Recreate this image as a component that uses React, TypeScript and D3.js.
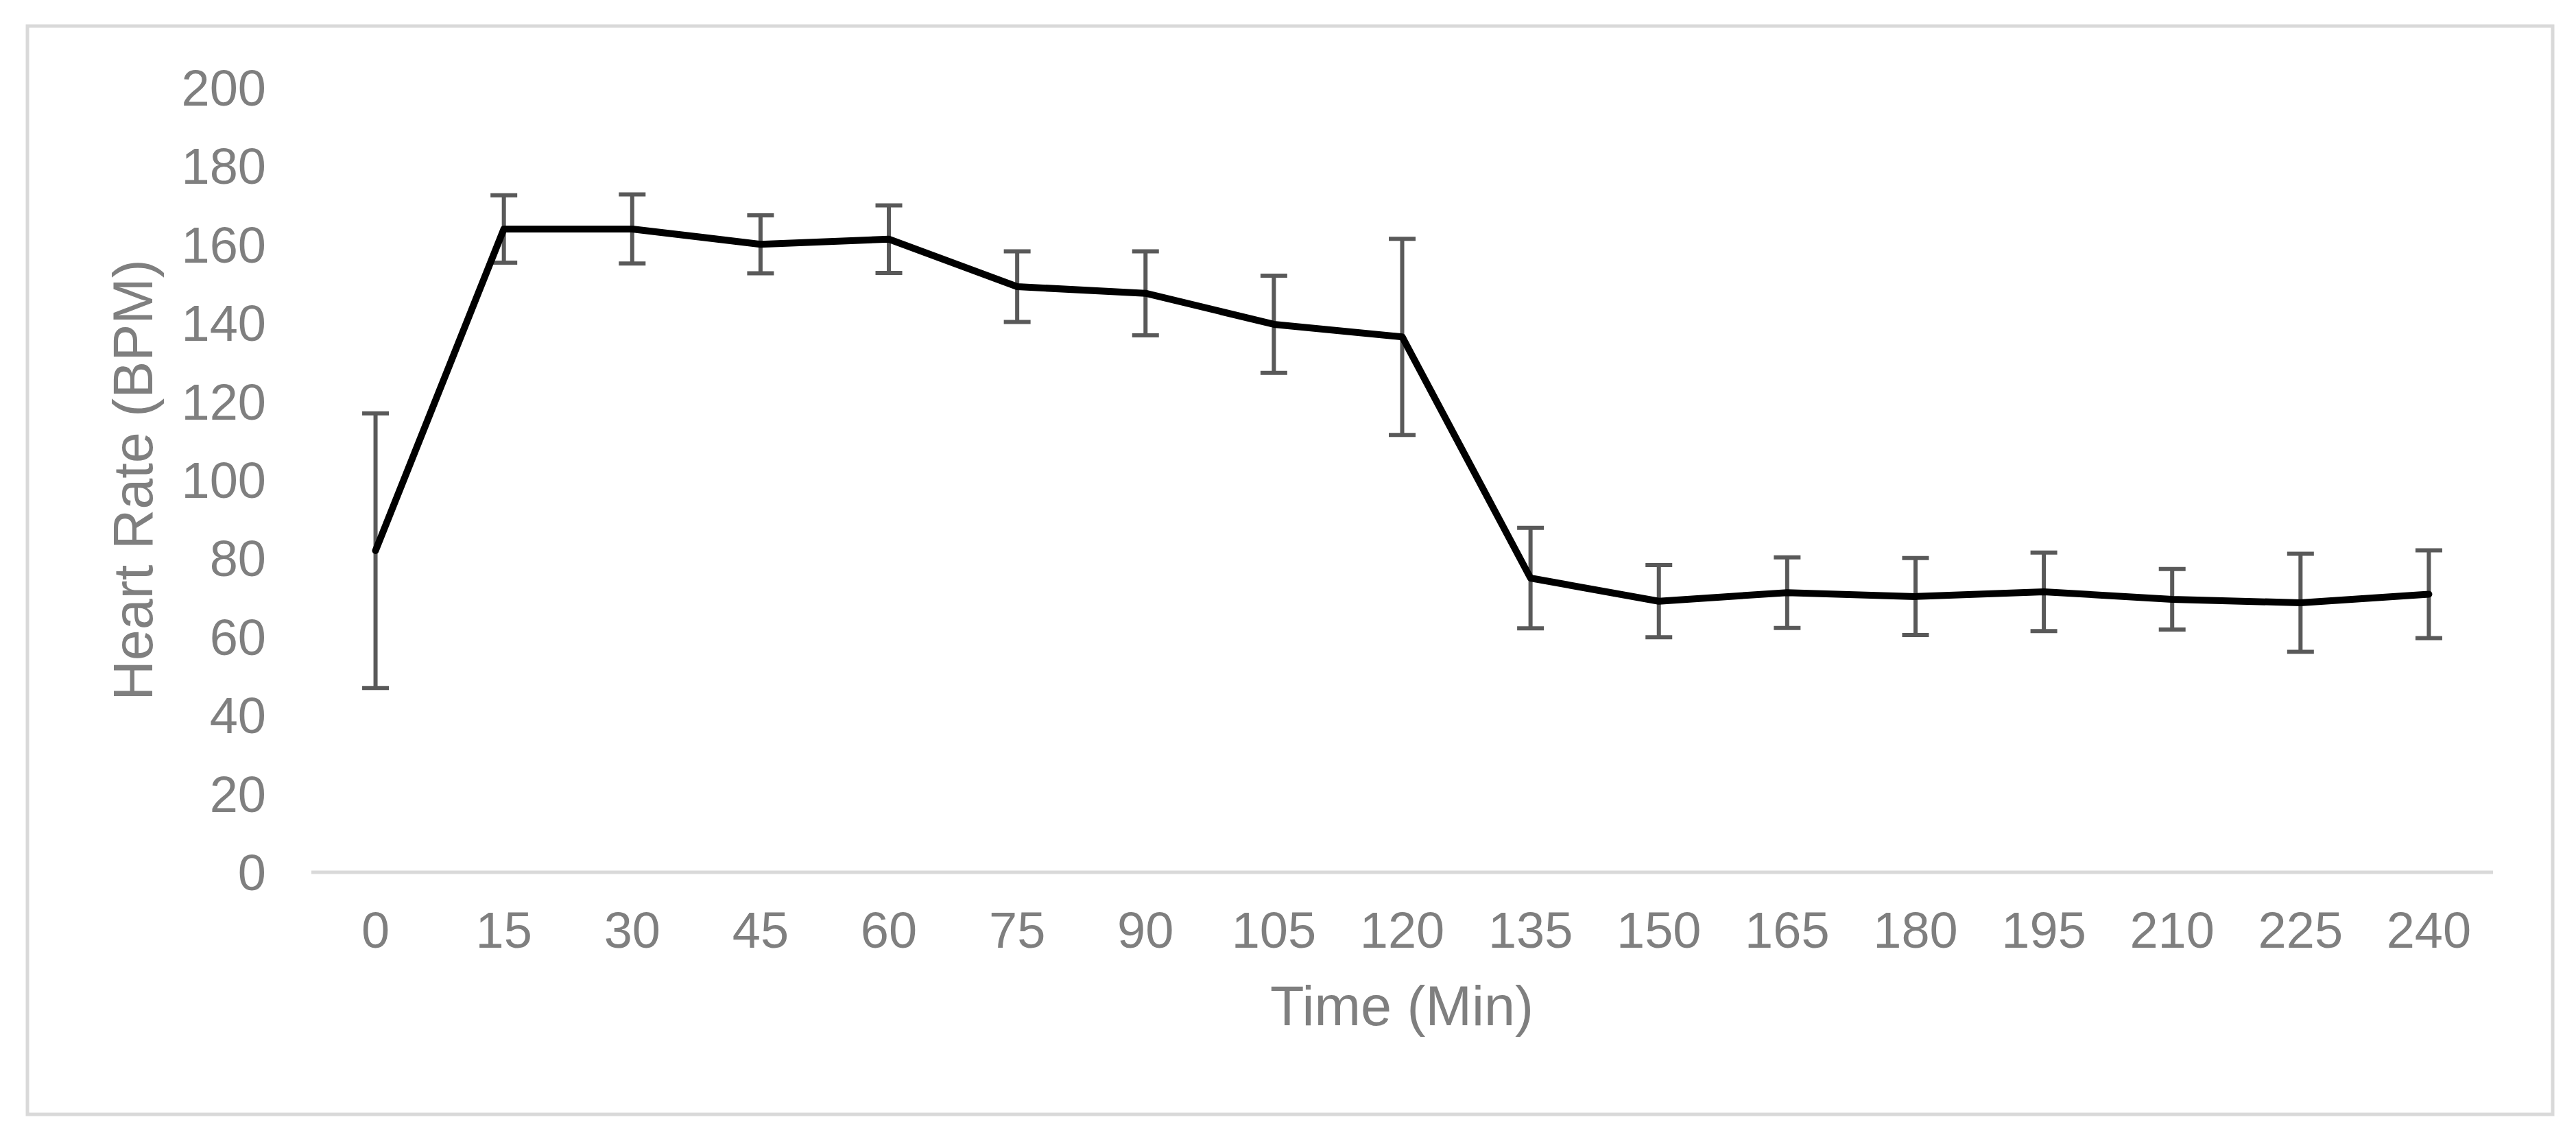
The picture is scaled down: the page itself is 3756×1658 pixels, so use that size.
import React from "react";
import * as d3 from "d3";

const categories = ["0", "15", "30", "45", "60", "75", "90", "105", "120", "135", "150", "165", "180", "195", "210", "225", "240"];
const heartRate = [82, 164, 164, 160.1, 161.4, 149.3, 147.6, 139.7, 136.5, 75, 69.1, 71.3, 70.3, 71.5, 69.6, 68.7, 70.9];
const errors = [35, 8.6, 8.8, 7.4, 8.6, 9, 10.7, 12.4, 25, 12.8, 9.2, 9, 9.8, 10, 7.7, 12.5, 11.2];
const yTicks = [0, 20, 40, 60, 80, 100, 120, 140, 160, 180, 200];

const W = 3756;
const H = 1658;
const FONT = "'Liberation Sans', Arial, sans-serif";

export default function App() {
  const x = d3.scaleBand<string>().domain(categories).range([454, 3635]);
  const y = d3.scaleLinear().domain([0, 200]).range([1272, 128]);
  const cx = (c: string) => (x(c) as number) + x.bandwidth() / 2;

  const line = d3
    .line<number>()
    .x((_, i) => cx(categories[i]))
    .y((d) => y(d));

  return (
    <svg
      width={W}
      height={H}
      style={{ position: "absolute", left: 0, top: 0, background: "#fff" }}
      fontFamily={FONT}
    >
      <rect x={0} y={0} width={W} height={H} fill="#fff" />
      <rect x={40} y={38} width={3682} height={1587} fill="none" stroke="#d9d9d9" strokeWidth={5} />

      {/* x axis line */}
      <line x1={454} x2={3635} y1={y(0)} y2={y(0)} stroke="#d9d9d9" strokeWidth={5} />

      {/* y tick labels */}
      {yTicks.map((t) => (
        <text key={t} x={388} y={y(t)} dy="0.35em" textAnchor="end" fontSize={74} fill="#7f7f7f">
          {t}
        </text>
      ))}

      {/* x tick labels */}
      {categories.map((c) => (
        <text key={c} x={cx(c)} y={1382} textAnchor="middle" fontSize={74} fill="#7f7f7f">
          {c}
        </text>
      ))}

      {/* axis titles */}
      <text x={2044} y={1495} textAnchor="middle" fontSize={81} fill="#7f7f7f">
        Time (Min)
      </text>
      <text
        transform={`translate(222, ${(y(0) + y(200)) / 2}) rotate(-90)`}
        textAnchor="middle"
        fontSize={81}
        fill="#7f7f7f"
      >
        Heart Rate (BPM)
      </text>

      {/* error bars */}
      {categories.map((c, i) => {
        const px = cx(c);
        const top = y(heartRate[i] + errors[i]);
        const bot = y(heartRate[i] - errors[i]);
        return (
          <g key={c} stroke="#595959" strokeWidth={6}>
            <line x1={px} x2={px} y1={top} y2={bot} />
            <line x1={px - 19.5} x2={px + 19.5} y1={top} y2={top} />
            <line x1={px - 19.5} x2={px + 19.5} y1={bot} y2={bot} />
          </g>
        );
      })}

      {/* mean line */}
      <path
        d={line(heartRate) || ""}
        fill="none"
        stroke="#000"
        strokeWidth={10}
        strokeLinecap="round"
        strokeLinejoin="round"
      />
    </svg>
  );
}
